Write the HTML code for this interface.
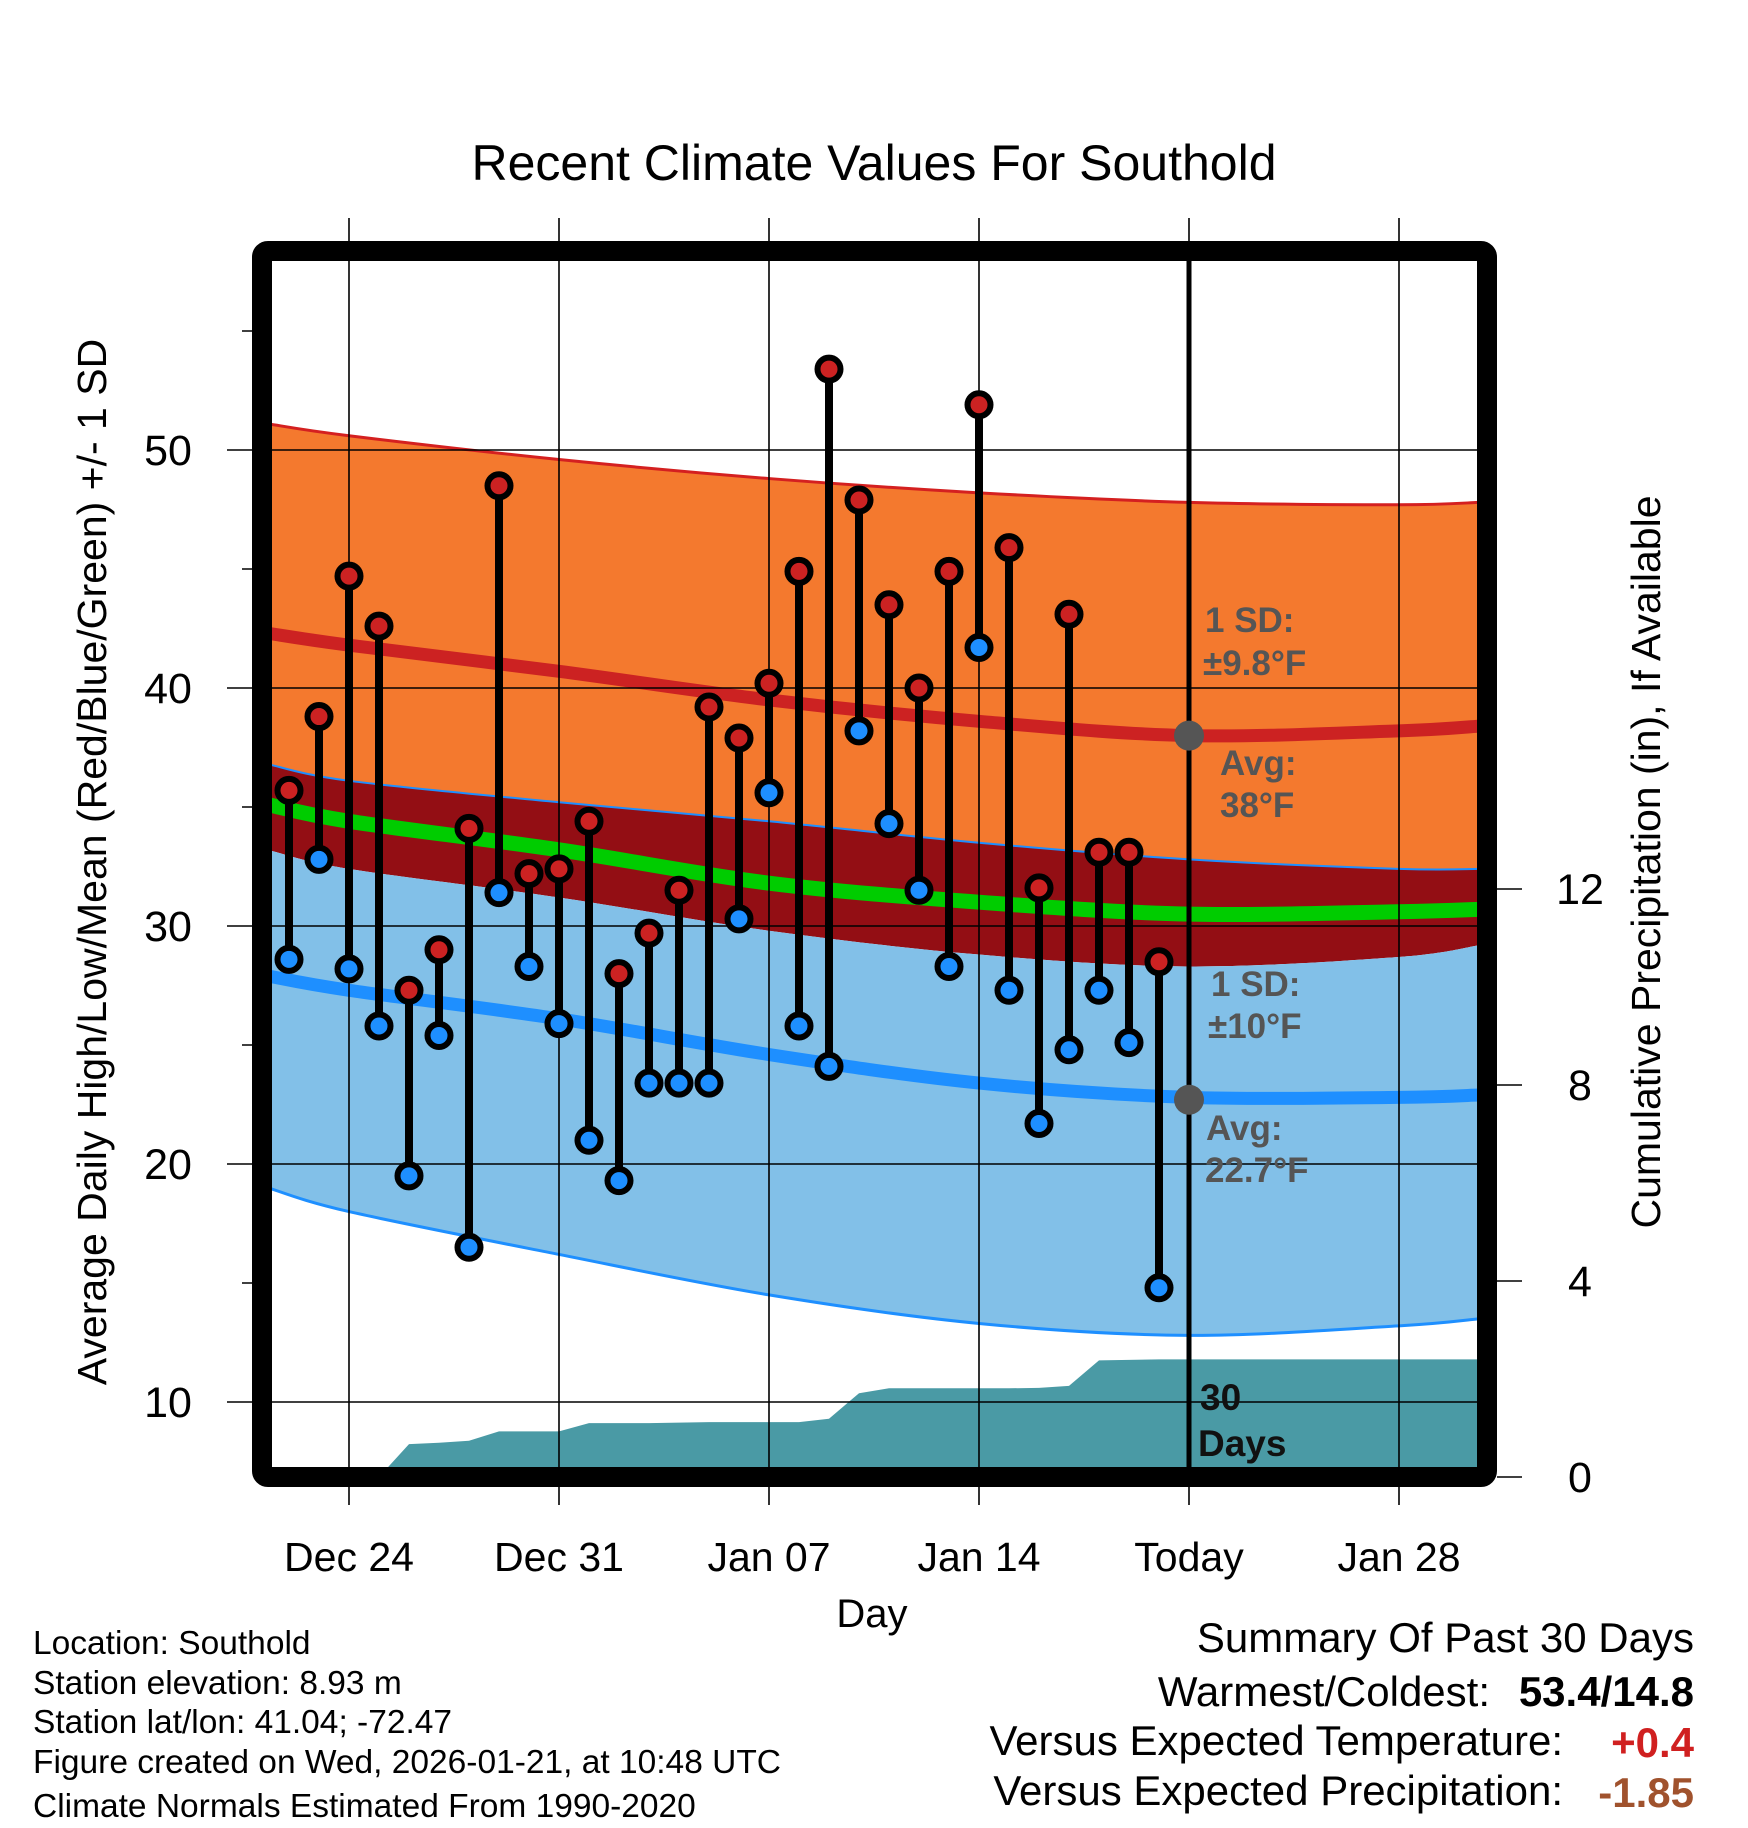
<!DOCTYPE html>
<html><head><meta charset="utf-8"><style>
html,body{margin:0;padding:0;background:#fff;}
svg{display:block;font-family:"Liberation Sans",sans-serif;}
</style></head><body>
<svg id="chart" width="1748" height="1828" viewBox="0 0 1748 1828" xmlns="http://www.w3.org/2000/svg">
<defs><clipPath id="plotclip"><rect x="270" y="259" width="1208" height="1210"/></clipPath></defs>
<g id="bands" clip-path="url(#plotclip)"></g>
<g id="grid"></g>
<g id="marks" clip-path="url(#plotclip)"></g>
<g id="labels"></g>
<rect x="262" y="251" width="1225" height="1226" rx="6" fill="none" stroke="#000" stroke-width="20"/>
<text x="874" y="180" font-size="50" text-anchor="middle">Recent Climate Values For Southold</text>
<text x="872" y="1627" font-size="40" text-anchor="middle">Day</text>
<text transform="translate(106,862) rotate(-90)" font-size="41" text-anchor="middle">Average Daily High/Low/Mean (Red/Blue/Green) +/- 1 SD</text>
<text transform="translate(1660,862) rotate(-90)" font-size="41" text-anchor="middle">Cumulative Precipitation (in), If Available</text>
<g font-size="33.5">
<text x="33" y="1654">Location: Southold</text>
<text x="33" y="1694">Station elevation: 8.93 m</text>
<text x="33" y="1733">Station lat/lon: 41.04; -72.47</text>
<text x="33" y="1773">Figure created on Wed, 2026-01-21, at 10:48 UTC</text>
<text x="33" y="1817">Climate Normals Estimated From 1990-2020</text>
</g>
<g font-size="42">
<text x="1694" y="1652" text-anchor="end">Summary Of Past 30 Days</text>
<text x="1490" y="1706" text-anchor="end">Warmest/Coldest:</text>
<text x="1694" y="1706" text-anchor="end" font-weight="bold">53.4/14.8</text>
<text x="1563" y="1755" text-anchor="end">Versus Expected Temperature:</text>
<text x="1694" y="1757" text-anchor="end" font-weight="bold" fill="#d02020">+0.4</text>
<text x="1563" y="1805" text-anchor="end">Versus Expected Precipitation:</text>
<text x="1694" y="1807" text-anchor="end" font-weight="bold" fill="#a0522d">-1.85</text>
</g>
<g font-size="35" font-weight="bold" fill="#555">
<text x="1205" y="632">1 SD:</text>
<text x="1203" y="675">±9.8°F</text>
<text x="1220" y="775">Avg:</text>
<text x="1220" y="817">38°F</text>
<text x="1211" y="996">1 SD:</text>
<text x="1208" y="1038">±10°F</text>
<text x="1206" y="1140">Avg:</text>
<text x="1205" y="1182">22.7°F</text>
</g>
<g font-size="37" font-weight="bold" fill="#111">
<text x="1200" y="1410">30</text>
<text x="1198" y="1456">Days</text>
</g>
</svg>
<script>
const normDays=[-0.7,2,9,16,23,30,37,39.7];
const highPlusSD=[51.1,50.6,49.6,48.8,48.2,47.8,47.7,47.8];
const avgHigh=[42.3,41.8,40.7,39.5,38.6,38.0,38.2,38.4];
const highMinusSD=[36.8,36.1,35.2,34.4,33.5,32.8,32.4,32.4];
const avgMean=[35.1,34.4,33.2,31.8,31.0,30.5,30.6,30.7];
const lowPlusSD=[33.2,32.4,31.2,29.8,28.8,28.3,28.7,29.2];
const avgLow=[27.9,27.3,26.1,24.6,23.4,22.8,22.8,22.9];
const lowMinusSD=[19.0,18.0,16.2,14.5,13.3,12.8,13.2,13.5];
const highs=[35.7,38.8,44.7,42.6,27.3,29.0,34.1,48.5,32.2,32.4,34.4,28.0,29.7,31.5,39.2,37.9,40.2,44.9,53.4,47.9,43.5,40.0,44.9,51.9,45.9,31.6,43.1,33.1,33.1,28.5];
const lows=[28.6,32.8,28.2,25.8,19.5,25.4,16.5,31.4,28.3,25.9,21.0,19.3,23.4,23.4,23.4,30.3,35.6,25.8,24.1,38.2,34.3,31.5,28.3,41.7,27.3,21.7,24.8,27.3,25.1,14.8];
const precip=[0,0,0,0,0.67,0.7,0.74,0.93,0.93,0.93,1.1,1.1,1.1,1.11,1.12,1.12,1.12,1.12,1.19,1.71,1.81,1.81,1.81,1.81,1.81,1.82,1.86,2.38,2.39,2.4];
const yTicks=[10,20,30,40,50];
const yMinor=[15,25,35,45,55];
const pTicks=[0,4,8,12];
const xTickDays=[2,9,16,23,30,37];
const xTickLabels=["Dec 24","Dec 31","Jan 07","Jan 14","Today","Jan 28"];
const todayDay=30;
const todayHigh=38.0, todayLow=22.7;

const NS="http://www.w3.org/2000/svg";
const X=d=>289+30*d;
const Y=t=>450+(50-t)*23.8;
const P=p=>1477-p*49;
function mk(tag,attrs,parent){const e=document.createElementNS(NS,tag);for(const k in attrs)e.setAttribute(k,attrs[k]);parent.appendChild(e);return e;}
function pts(days,vals){return days.map((d,i)=>[X(d),Y(vals[i])]);}
function smooth(p){let s="M"+p[0][0]+","+p[0][1];for(let i=0;i<p.length-1;i++){const p0=p[i-1]||p[i],p1=p[i],p2=p[i+1],p3=p[i+2]||p2;const c1=[p1[0]+(p2[0]-p0[0])/6,p1[1]+(p2[1]-p0[1])/6],c2=[p2[0]-(p3[0]-p1[0])/6,p2[1]-(p3[1]-p1[1])/6];s+=" C"+c1+" "+c2+" "+p2;}return s;}
function smoothRev(p){return smooth(p.slice().reverse()).replace(/^M/," L");}
const bands=document.getElementById('bands');
function band(a,b,fill,name){const pa=pts(normDays,a),pb=pts(normDays,b);const e=mk('path',{d:smooth(pa)+smoothRev(pb)+" Z",fill:fill},bands);

}
function line(v,stroke,w,name){const e=mk('path',{d:smooth(pts(normDays,v)),fill:"none",stroke:stroke,"stroke-width":w},bands);

}
band(highPlusSD,highMinusSD,"#f4792e","high-sd-band");
band(highMinusSD,lowPlusSD,"#930e14","overlap-band");
band(lowPlusSD,lowMinusSD,"#82c0e8","low-sd-band");
line(avgMean,"#00cc00",15,"mean-line");
line(avgHigh,"#cc2222",13,"avg-high-line");
line(avgLow,"#1e8fff",13,"avg-low-line");
line(highPlusSD,"#d42020",3,"high-plus-sd-edge");
line(highMinusSD,"#1e8fff",2,"high-minus-sd-edge");
line(lowMinusSD,"#1e8fff",3,"low-minus-sd-edge");
let pd="M"+X(3)+","+P(0);
precip.forEach((v,i)=>{if(i>=3)pd+=" L"+X(i)+","+P(v);});
pd+=" L1480,"+P(precip[precip.length-1])+" L1480,"+P(0)+" Z";
const pa=mk('path',{d:pd,fill:"#4a9aa5"},bands);


const grid=document.getElementById('grid');
yTicks.forEach(t=>{const l=mk('line',{x1:227,x2:1478,y1:Y(t),y2:Y(t),stroke:"#000","stroke-width":1.6},grid);


const tx=mk('text',{x:168,y:Y(t)+15,"font-size":43,"text-anchor":"middle"},grid);tx.textContent=t;

});
yMinor.forEach(t=>{const l=mk('line',{x1:242,x2:262,y1:Y(t),y2:Y(t),stroke:"#000","stroke-width":1.5},grid);

});
xTickDays.forEach((d,i)=>{const l=mk('line',{x1:X(d),x2:X(d),y1:218,y2:1505,stroke:"#000","stroke-width":1.6},grid);


const tx=mk('text',{x:X(d),y:1571,"font-size":41,"text-anchor":"middle"},grid);tx.textContent=xTickLabels[i];

});
pTicks.forEach(p=>{const l=mk('line',{x1:1497,x2:1522,y1:P(p),y2:P(p),stroke:"#000","stroke-width":1.6},grid);


const tx=mk('text',{x:1580,y:P(p)+15,"font-size":43,"text-anchor":"middle"},grid);tx.textContent=p;

});
const marks=document.getElementById('marks');
const tl=mk('line',{x1:X(todayDay),x2:X(todayDay),y1:255,y2:1470,stroke:"#000","stroke-width":5},marks);


highs.forEach((h,i)=>{const s=mk('line',{x1:X(i),x2:X(i),y1:Y(h),y2:Y(lows[i]),stroke:"#000","stroke-width":8},marks);

});
highs.forEach((h,i)=>{const c=mk('circle',{cx:X(i),cy:Y(h),r:11.5,fill:"#cc2222",stroke:"#000","stroke-width":6},marks);


const c2=mk('circle',{cx:X(i),cy:Y(lows[i]),r:11.5,fill:"#1e8fff",stroke:"#000","stroke-width":6},marks);

});
[todayHigh,todayLow].forEach(v=>{const c=mk('circle',{cx:X(todayDay),cy:Y(v),r:15,fill:"#555"},marks);

});
</script>
</body></html>
